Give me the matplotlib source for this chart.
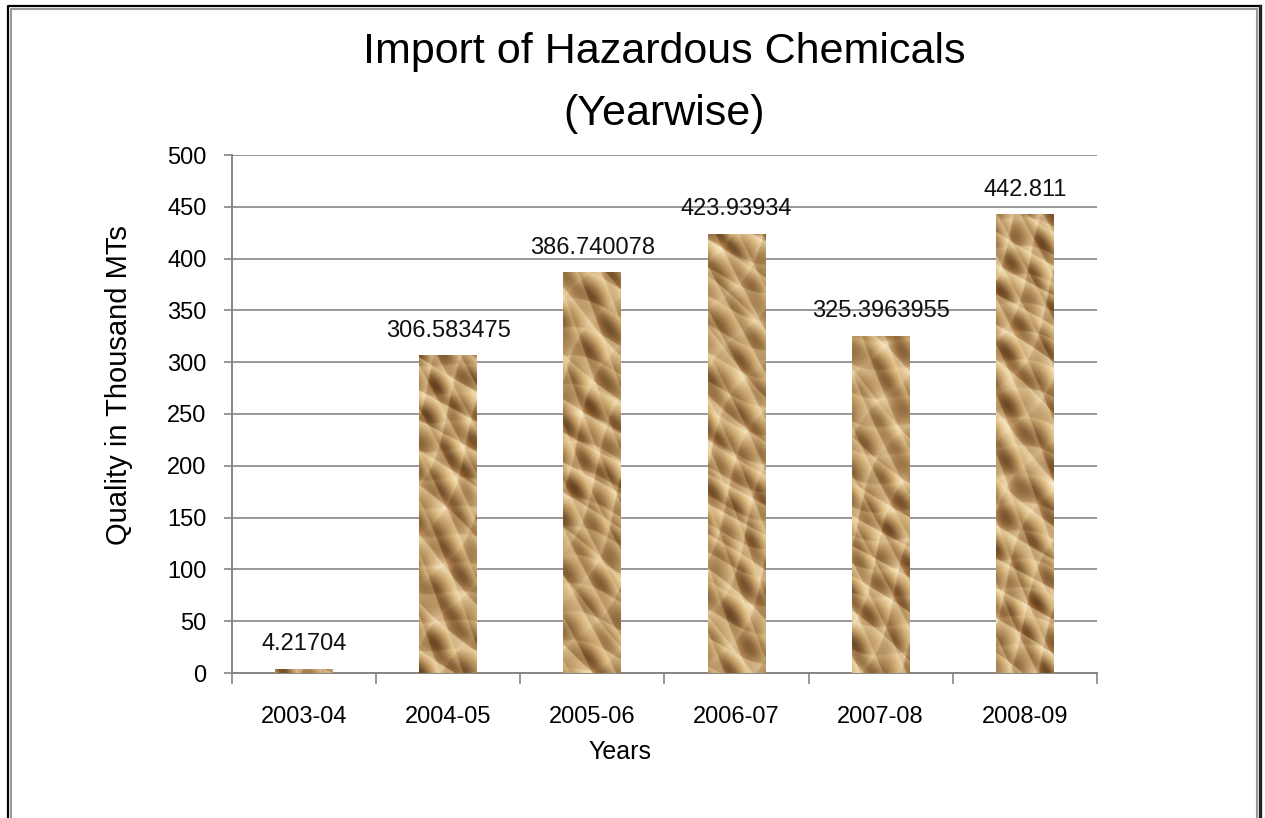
import numpy as np
import matplotlib
matplotlib.use("Agg")
import matplotlib.pyplot as plt
from matplotlib.colors import LinearSegmentedColormap, LightSource
from matplotlib.lines import Line2D

# data
years = ["2003-04", "2004-05", "2005-06", "2006-07", "2007-08", "2008-09"]
quantity = [4.21704, 306.583475, 386.740078, 423.93934, 325.3963955, 442.811]
labels = ["4.21704", "306.583475", "386.740078", "423.93934", "325.3963955", "442.811"]

plt.rcParams['font.family'] = ['Liberation Sans', 'DejaVu Sans']

W, H = 1265, 818
fig = plt.figure(figsize=(W / 100, H / 100), dpi=100)
fig.patch.set_facecolor('white')

def px(x, y):
    return x / W, 1 - y / H

left, right, top, bottom = 231.7, 1097, 155, 673
ax = fig.add_axes([left / W, 1 - bottom / H, (right - left) / W, (bottom - top) / H])

tan = LinearSegmentedColormap.from_list('tan', ['#74512e', '#9f7a4b', '#c29e6e', '#dcbf93'])
ls = LightSource(azdeg=300, altdeg=40)

def paper(k):
    # crumpled paper look: hill-shaded creases (deterministic)
    yy, xx = np.mgrid[0:520, 0:60].astype(float)
    p = 0.9 * k
    s = (1.0 * np.abs(np.sin(0.055 * xx + 0.075 * yy + 1.5 * np.sin(0.021 * yy + p)))
         + 0.8 * np.abs(np.sin(0.085 * xx - 0.045 * yy + 1.2 * np.sin(0.030 * xx + 0.017 * yy + p)))
         + 0.6 * np.abs(np.sin(0.025 * xx + 0.110 * yy + 0.8 * np.sin(0.05 * xx + 2 * p)))
         + 0.5 * np.abs(np.sin(0.130 * xx + 0.060 * yy + 1.0 * np.sin(0.013 * yy + 3 * p)))
         + 0.3 * np.sin(0.15 * xx + 0.12 * yy + p))
    return ls.shade(-s, cmap=tan, blend_mode='soft', vert_exag=4)

x = np.arange(len(years))
bw = 0.40
bars = ax.bar(x, quantity, width=bw, color='#b99466', zorder=2)
for i, b in enumerate(bars):
    im = ax.imshow(paper(i), extent=[x[i] - bw / 2, x[i] + bw / 2, 0, 500],
                   origin='lower', aspect='auto', zorder=3)
    im.set_clip_path(b)

for xi, v, lab in zip(x, quantity, labels):
    ax.annotate(lab, (xi, v), xytext=(0, 13.3), textcoords='offset points',
                ha='center', va='baseline', fontsize=17, color='#111111')

ax.set_xlim(-0.5, len(years) - 0.5)
ax.set_ylim(0, 500)
ax.set_yticks(np.arange(0, 501, 50))
ax.yaxis.grid(True, color='#868686', linewidth=1.2, zorder=1)
ax.set_axisbelow(True)

ax.set_xticks(x)
ax.set_xticklabels(years)
ax.set_xticks(np.arange(-0.5, len(years), 1), minor=True)
ax.tick_params(axis='x', which='major', length=0, pad=24, labelsize=17)
ax.tick_params(axis='x', which='minor', length=8, width=1.2, color='#868686', direction='out')
ax.tick_params(axis='y', length=6, width=1.2, color='#868686', pad=12, labelsize=17)

for s in ['top', 'right']:
    ax.spines[s].set_visible(False)
for s in ['left', 'bottom']:
    ax.spines[s].set_color('#868686')
    ax.spines[s].set_linewidth(1.4)

# titles and axis titles
fig.text(*px(664, 63), "Import of Hazardous Chemicals", ha='center', va='baseline', fontsize=31)
fig.text(*px(664, 125), "(Yearwise)", ha='center', va='baseline', fontsize=31)
fig.text(*px(119, 385), "Quality in Thousand MTs", rotation=90, ha='center', va='center', fontsize=21)
fig.text(*px(620, 752), "Years", ha='center', va='center', fontsize=18)

# page frame
fig.add_artist(Line2D([8 / W, 8 / W, 1260 / W], [0, 1 - 6 / H, 1 - 6 / H], color='black', lw=1.6))
fig.add_artist(Line2D([11 / W, 11 / W, 1256.5 / W, 1256.5 / W], [0, 1 - 8.5 / H, 1 - 8.5 / H, 0],
                      color='#999999', lw=1.5))
fig.add_artist(Line2D([1260 / W, 1260 / W], [1 - 6 / H, 0], color='#222222', lw=2.4))

fig.savefig("out.png", dpi=100, facecolor='white')
